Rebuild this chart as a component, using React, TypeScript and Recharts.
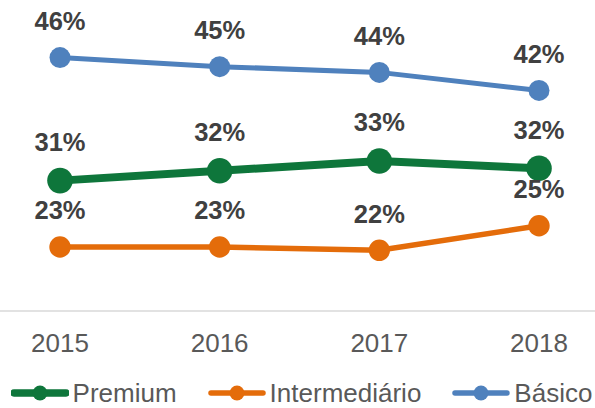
import React from 'react';
import { Legend, Line, LineChart, XAxis, YAxis } from 'recharts';

const YEARS = ['2015', '2016', '2017', '2018'];
const PREMIUM = [30.9, 32.1, 33.3, 32.4];
const INTERMEDIARIO = [22.8, 22.8, 22.4, 25.4];
const BASICO = [45.9, 44.8, 44.1, 41.9];

const FONT = '"Liberation Sans", Arial, sans-serif';

const SERIES = [
  { key: 'premium', name: 'Premium', color: '#0E763B', width: 8, r: 12.8 },
  { key: 'intermediario', name: 'Intermediário', color: '#E46C0A', width: 5.5, r: 10.7 },
  { key: 'basico', name: 'Básico', color: '#4F81BD', width: 5, r: 10.5 },
];

const data = YEARS.map((year, i) => ({
  year,
  premium: PREMIUM[i],
  intermediario: INTERMEDIARIO[i],
  basico: BASICO[i],
}));

const makeLabel = (r: number) => (props: any) => {
  const x = props.x ?? props.viewBox?.x;
  const y = props.y ?? props.viewBox?.y;
  if (x == null || y == null) return null;
  return (
    <text
      x={x}
      y={y - r - 17}
      textAnchor="middle"
      fontFamily={FONT}
      fontSize={25.5}
      fontWeight="bold"
      fill="#404040"
    >
      {`${Math.round(Number(props.value))}%`}
    </text>
  );
};

const YearTick = (props: any) => {
  const { x, y, payload } = props;
  return (
    <text x={x} y={y + 41} textAnchor="middle" fontFamily={FONT} fontSize={26} fill="#595959">
      {payload.value}
    </text>
  );
};

const renderLegend = () => (
  <div
    style={{
      height: 24,
      display: 'flex',
      justifyContent: 'center',
      alignItems: 'center',
      paddingLeft: 8,
      fontFamily: FONT,
      fontSize: 26,
      lineHeight: '24px',
      color: '#595959',
      whiteSpace: 'nowrap',
    }}
  >
    {SERIES.map((s, i) => (
      <div key={s.key} style={{ display: 'flex', alignItems: 'center', marginLeft: i === 0 ? 0 : 31 }}>
        <svg width={58} height={24} style={{ marginRight: 4 }}>
          <line
            x1={3}
            y1={12}
            x2={55}
            y2={12}
            stroke={s.color}
            strokeWidth={s.key === 'premium' ? 7.5 : 5.5}
            strokeLinecap="round"
          />
          <circle cx={29} cy={12} r={7.4} fill={s.color} />
        </svg>
        <span>{s.name}</span>
      </div>
    ))}
  </div>
);

// labels of later series sit on top, so Intermediário goes last
const DRAW_ORDER = ['basico', 'premium', 'intermediario'];

export default function App() {
  return (
    <div style={{ position: 'absolute', left: 0, top: 0, width: 595, height: 408, background: '#fff' }}>
      <LineChart width={595} height={408} data={data} margin={{ top: 24, right: 0, bottom: 0, left: 0 }}>
        <XAxis
          dataKey="year"
          height={73}
          padding={{ left: 60, right: 56 }}
          axisLine={{ stroke: '#D9D9D9', strokeWidth: 1.5 }}
          tickLine={false}
          tickSize={0}
          tickMargin={0}
          tick={<YearTick />}
          interval={0}
        />
        <YAxis hide domain={[15, 50]} />
        <Legend verticalAlign="bottom" content={renderLegend} wrapperStyle={{ bottom: 3 }} />
        {DRAW_ORDER.map((k) => {
          const s = SERIES.find((x) => x.key === k)!;
          return (
            <Line
              key={s.key}
              dataKey={s.key}
              name={s.name}
              type="linear"
              stroke={s.color}
              strokeWidth={s.width}
              dot={{ r: s.r, fill: s.color, stroke: s.color, strokeWidth: 0 }}
              activeDot={false}
              label={makeLabel(s.r)}
              isAnimationActive={false}
            />
          );
        })}
      </LineChart>
    </div>
  );
}
